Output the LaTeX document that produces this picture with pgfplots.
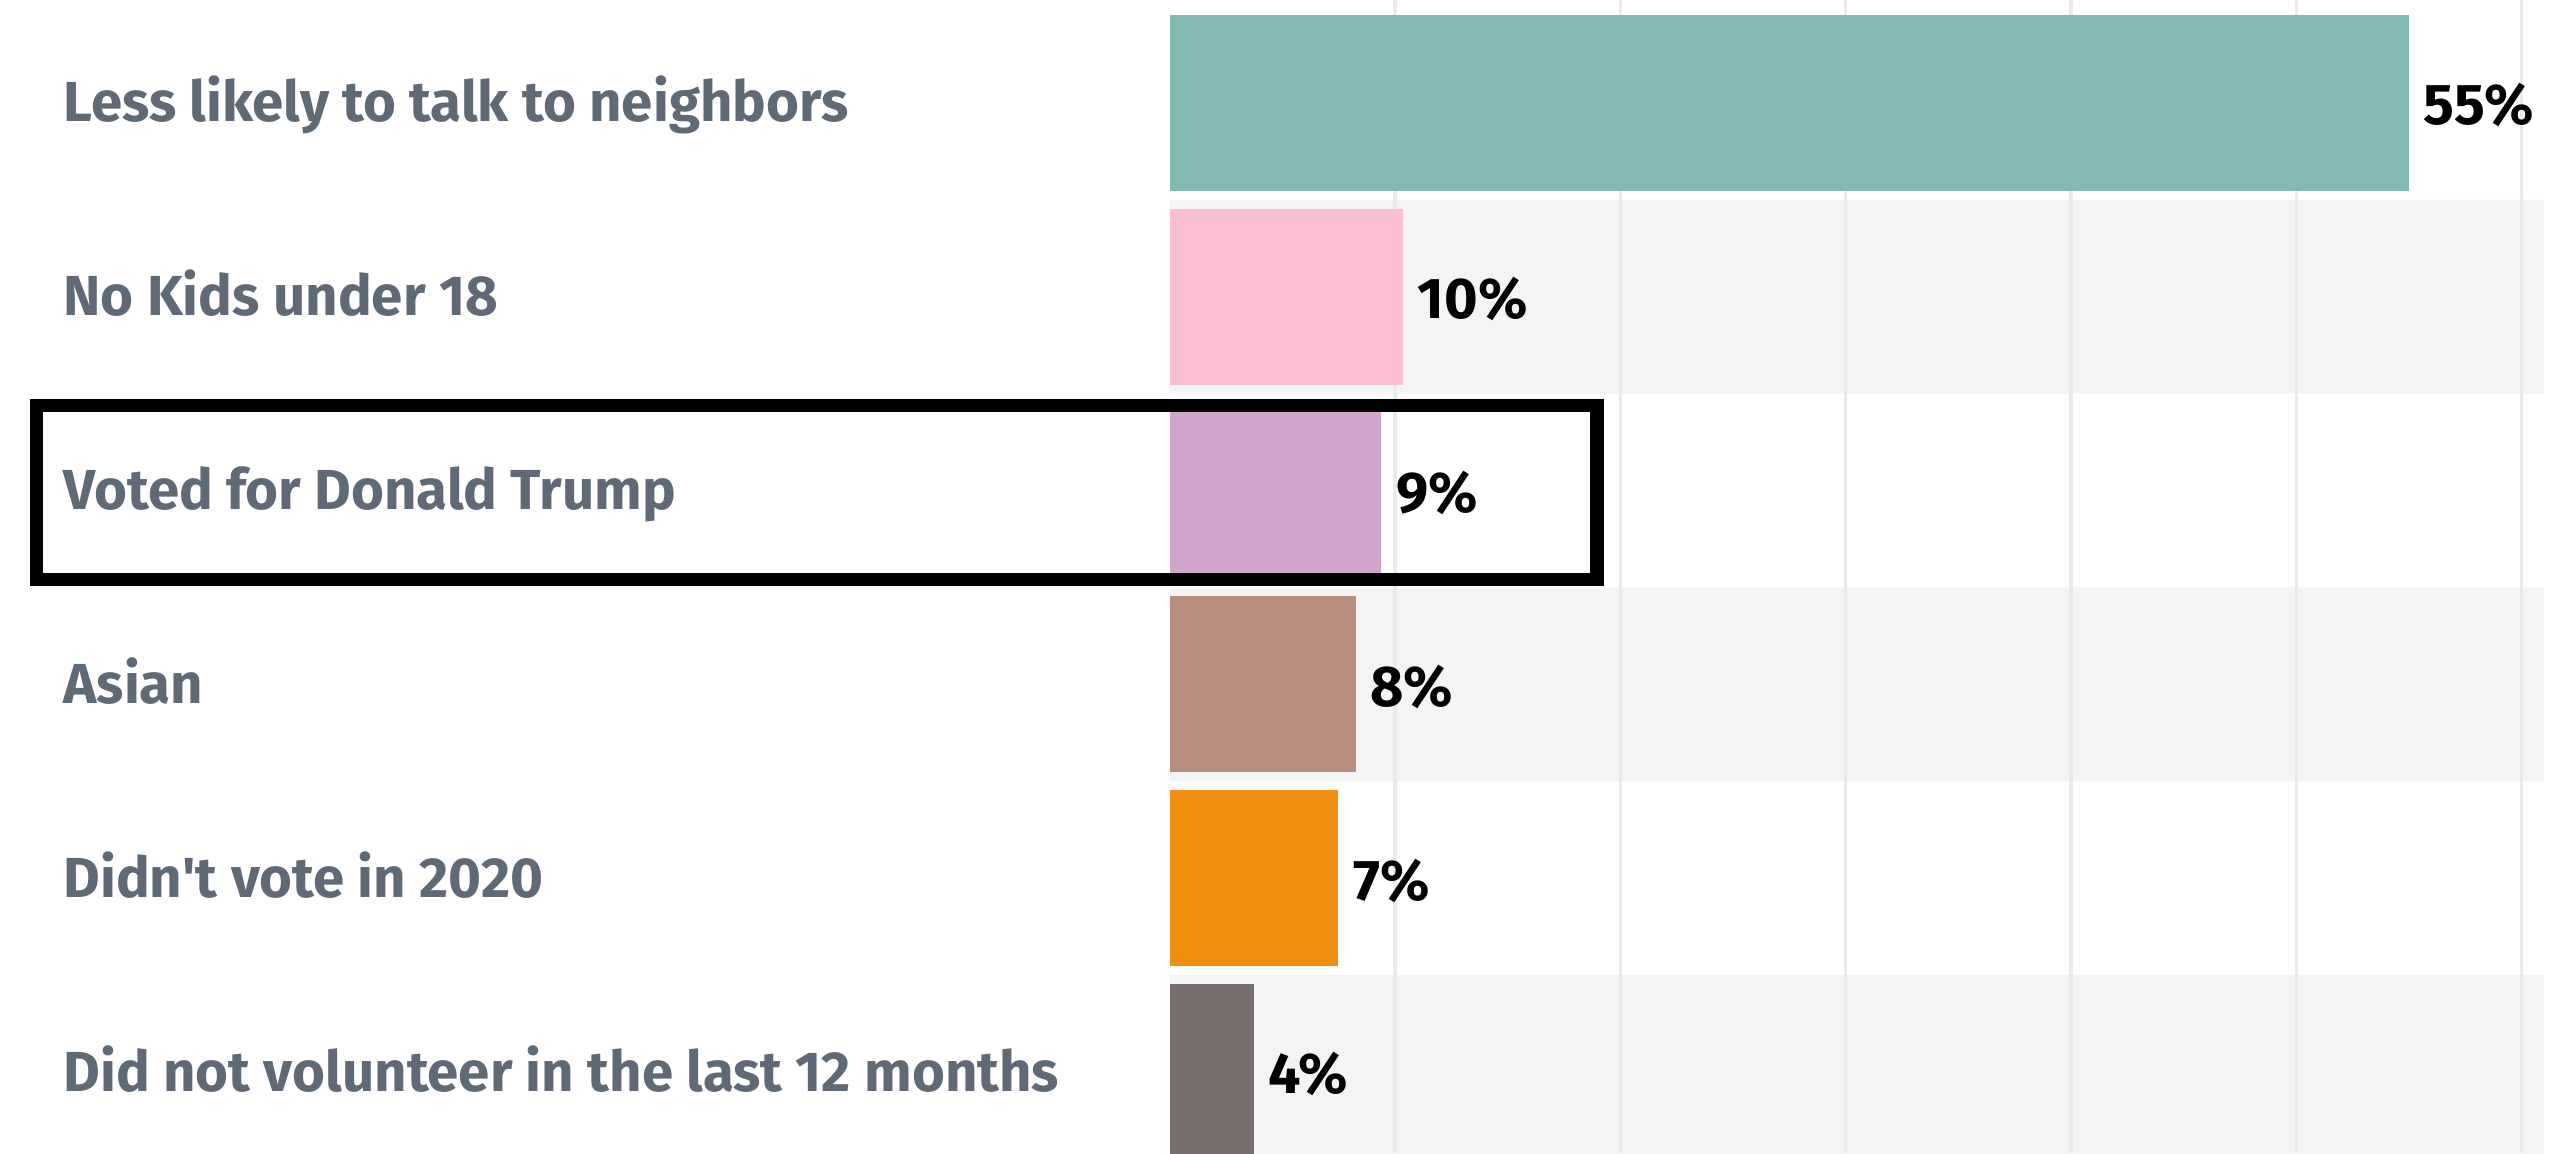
\documentclass[border=0pt]{standalone}
\usepackage{pgfplots}
\pgfplotsset{compat=1.18}
\usepackage{fontspec}
\setmainfont{Fira Sans}
\definecolor{labgray}{HTML}{5F6A76}
\definecolor{bandgray}{HTML}{F4F4F4}
\definecolor{gridgray}{HTML}{EAEAEA}
\definecolor{cA}{HTML}{82B9B3}
\definecolor{cB}{HTML}{F9BDD4}
\definecolor{cC}{HTML}{D3A4C9}
\definecolor{cD}{HTML}{BA8E7E}
\definecolor{cE}{HTML}{F28E0F}
\definecolor{cF}{HTML}{786E6D}
\begin{document}
\begin{tikzpicture}
\begin{axis}[
  at={(0pt,0pt)}, anchor=south west,
  set layers,
  scale only axis, width=251pt, height=210.6pt,
  xmin=0, xmax=61, ymin=-0.5305, ymax=5.419,
  y dir=reverse,
  axis line style={draw=none},
  tick style={draw=none},
  xtick={10,20,...,60}, xticklabels={},
  xmajorgrids,
  major grid style={draw=gridgray, line width=0.6pt},
  ytick={0,1,2,3,4,5},
  yticklabels={Less likely to talk to neighbors, No Kids under 18, Voted for Donald Trump, Asian, Didn\textquotesingle t vote in 2020, Did not volunteer in the last 12 months},
  yticklabel style={anchor=base west, inner sep=0pt, xshift=-202.2pt, yshift=-3.5pt,
    font=\fontsize{10.3}{12}\selectfont\bfseries, text=labgray},
  every node near coord/.append style={anchor=base west, inner sep=0pt, xshift=2.5pt, yshift=-4.0pt,
    font=\fontsize{10.5}{12}\selectfont\bfseries, text=black},
]
\addplot[xbar, bar width=1, bar shift=0pt, fill=bandgray, draw=none, on layer=axis background, forget plot]
  coordinates {(61,1) (61,3) (61,5)};
\addplot[xbar, bar width=0.907, bar shift=0pt, fill=cA, draw=none, nodes near coords, point meta=explicit symbolic]
  coordinates {(55.0,0) [55\%]};
\addplot[xbar, bar width=0.907, bar shift=0pt, fill=cB, draw=none, nodes near coords, point meta=explicit symbolic]
  coordinates {(10.35,1) [10\%]};
\addplot[xbar, bar width=0.907, bar shift=0pt, fill=cC, draw=none, nodes near coords, point meta=explicit symbolic]
  coordinates {(9.39,2) [9\%]};
\addplot[xbar, bar width=0.907, bar shift=0pt, fill=cD, draw=none, nodes near coords, point meta=explicit symbolic]
  coordinates {(8.25,3) [8\%]};
\addplot[xbar, bar width=0.907, bar shift=0pt, fill=cE, draw=none, nodes near coords, point meta=explicit symbolic]
  coordinates {(7.49,4) [7\%]};
\addplot[xbar, bar width=0.907, bar shift=0pt, fill=cF, draw=none, nodes near coords, point meta=explicit symbolic]
  coordinates {(3.73,5) [4\%]};
\coordinate (hlTR) at (axis cs:18.96,1.563);
\coordinate (hlBL) at (axis cs:0,2.461);
\end{axis}
\draw[line width=2.4pt, line join=miter] ([xshift=-206.9pt]hlBL) rectangle (hlTR);
\pgfresetboundingbox
\useasboundingbox (-213.6pt,0pt) rectangle (256.8pt,210.6pt);
\end{tikzpicture}
\end{document}
